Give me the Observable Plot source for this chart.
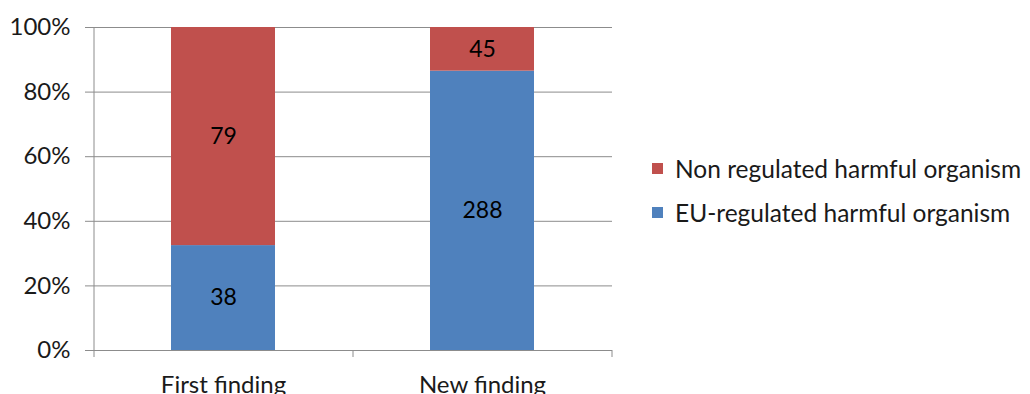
<!DOCTYPE html>
<html>
<head>
<meta charset="utf-8">
<script src="https://cdn.jsdelivr.net/npm/d3@7"></script>
<script src="https://cdn.jsdelivr.net/npm/@observablehq/plot@0.6"></script>
<style>
  html, body { margin: 0; padding: 0; background: #fff; overflow: hidden; }
  #wrap { position: relative; width: 1030px; height: 394px; font-family: Lato, "Open Sans", sans-serif; }
  #legend { position: absolute; left: 652px; top: 146px; font-size: 24.5px; color: #1a1a1a; }
  #legend .item { display: flex; align-items: center; height: 44px; white-space: nowrap; }
  #legend .sw { width: 11px; height: 11px; margin-right: 12px; }
</style>
</head>
<body>
<div id="wrap"></div>
<script>
const categories = ["First finding", "New finding"];
const seriesNames = ["EU-regulated harmful organism", "Non regulated harmful organism"];
const euValues = [38, 288];
const nonValues = [79, 45];
const colors = ["#4F81BD", "#C0504D"];
const yTicks = [0, 0.2, 0.4, 0.6, 0.8, 1];

const data = [];
categories.forEach((c, i) => {
  data.push({cat: c, series: seriesNames[0], value: euValues[i]});
  data.push({cat: c, series: seriesNames[1], value: nonValues[i]});
});

const stackOpts = {x: "cat", y: "value", z: "series", order: seriesNames, offset: "normalize"};

const plot = Plot.plot({
  width: 1030,
  height: 394,
  marginLeft: 93,
  marginRight: 418,
  marginTop: 27,
  marginBottom: 44,
  style: {fontFamily: "Lato, 'Open Sans', sans-serif", fontSize: "24px", color: "#1a1a1a", background: "#fff"},
  x: {domain: categories, paddingInner: 0.6, paddingOuter: 0.3, label: null},
  y: {domain: [0, 1], label: null},
  color: {domain: seriesNames, range: colors},
  marks: [
    Plot.ruleY(yTicks, {y: d => d, stroke: "#8c8c8c", strokeWidth: 1, insetLeft: -8}),
    Plot.barY(data, Plot.stackY({...stackOpts, fill: "series"})),
    Plot.text(data, Plot.stackY({...stackOpts, text: "value", fill: "#000", fontSize: 23})),
    Plot.axisY({ticks: yTicks, tickFormat: d3.format(".0%"), tickSize: 0, tickPadding: 23, fontSize: 24}),
    Plot.axisX({tickSize: 0, tickPadding: 25, fontSize: 24})
  ]
});

document.getElementById("wrap").appendChild(plot);

// axis line and category boundary ticks from the library's band scale
const xs = plot.scale("x");
const ys = plot.scale("y");
const gap = (xs.step - xs.bandwidth) / 2;
const bounds = categories.map(c => xs.apply(c) - gap);
bounds.push(xs.apply(categories[categories.length - 1]) + xs.bandwidth + gap);
const y0 = ys.apply(0), y1 = ys.apply(1);
const svg = d3.select(plot.tagName.toLowerCase() === "svg" ? plot : plot.querySelector("svg"));
const g = svg.append("g").attr("stroke", "#8c8c8c").attr("stroke-width", 1);
g.append("line").attr("x1", bounds[0] + 0.5).attr("x2", bounds[0] + 0.5).attr("y1", y1).attr("y2", y0 + 7);
bounds.slice(1).forEach(b => {
  g.append("line").attr("x1", b + 0.5).attr("x2", b + 0.5).attr("y1", y0).attr("y2", y0 + 7);
});

// legend
const legend = d3.select("#wrap").append("div").attr("id", "legend");
seriesNames.slice().reverse().forEach(name => {
  const item = legend.append("div").attr("class", "item");
  item.append("div").attr("class", "sw").style("background", colors[seriesNames.indexOf(name)]);
  item.append("span").text(name);
});
</script>
</body>
</html>
